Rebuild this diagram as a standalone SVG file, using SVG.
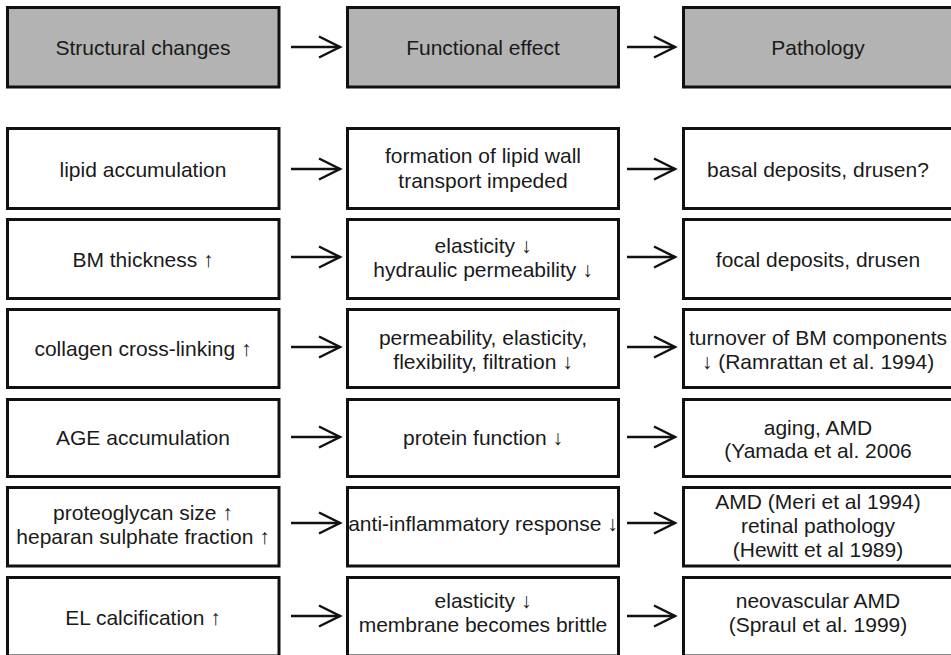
<svg xmlns="http://www.w3.org/2000/svg" width="951" height="655" viewBox="0 0 951 655">
<style>
.box{fill:#ffffff;stroke:#111111;stroke-width:3}
.hdr{fill:#b3b3b3;stroke:#111111;stroke-width:3}
text{font-family:"Liberation Sans",Arial,sans-serif;font-size:21px;fill:#1a1a1a;text-anchor:middle}
.conn line{stroke:#111111;stroke-width:2.5;marker-end:url(#arr)}
</style>
<defs>
<marker id="arr" markerUnits="userSpaceOnUse" markerWidth="30" markerHeight="30" refX="21" refY="11" orient="auto" overflow="visible">
<path d="M0,0.5 L21,11 L0,21.5" fill="none" stroke="#111111" stroke-width="2.5"/>
</marker>
</defs>
<rect width="951" height="655" fill="#ffffff"/>
<g id="h1"><rect class="hdr" x="7.5" y="7.5" width="271.5" height="79.5"/><text x="143" y="55">Structural changes</text></g>
<g id="h2"><rect class="hdr" x="347.5" y="7.5" width="271" height="79.5"/><text x="483" y="55">Functional effect</text></g>
<g id="h3"><rect class="hdr" x="683.5" y="7.5" width="280" height="79.5"/><text x="818" y="55">Pathology</text></g>

<g id="s1"><rect class="box" x="7.5" y="128.5" width="271.5" height="80"/><text x="143" y="177">lipid accumulation</text></g>
<g id="f1"><rect class="box" x="347.5" y="128.5" width="271" height="80"/><text x="483" y="163">formation of lipid wall</text><text x="483" y="188">transport impeded</text></g>
<g id="p1"><rect class="box" x="683.5" y="128.5" width="280" height="80"/><text x="818" y="177">basal deposits, drusen?</text></g>

<g id="s2"><rect class="box" x="7.5" y="219.5" width="271.5" height="79"/><text x="143" y="267">BM thickness ↑</text></g>
<g id="f2"><rect class="box" x="347.5" y="219.5" width="271" height="79"/><text x="483" y="253">elasticity ↓</text><text x="483" y="277">hydraulic permeability ↓</text></g>
<g id="p2"><rect class="box" x="683.5" y="219.5" width="280" height="79"/><text x="818" y="267">focal deposits, drusen</text></g>

<g id="s3"><rect class="box" x="7.5" y="309.5" width="271.5" height="78"/><text x="143" y="356">collagen cross-linking ↑</text></g>
<g id="f3"><rect class="box" x="347.5" y="309.5" width="271" height="78"/><text x="483" y="344.5">permeability, elasticity,</text><text x="483" y="368.5">flexibility, filtration ↓</text></g>
<g id="p3"><rect class="box" x="683.5" y="309.5" width="280" height="78"/><text x="818" y="344.5">turnover of BM components</text><text x="818" y="368.5">↓ (Ramrattan et al. 1994)</text></g>

<g id="s4"><rect class="box" x="7.5" y="399.5" width="271.5" height="77"/><text x="143" y="445">AGE accumulation</text></g>
<g id="f4"><rect class="box" x="347.5" y="399.5" width="271" height="77"/><text x="483" y="445">protein function ↓</text></g>
<g id="p4"><rect class="box" x="683.5" y="399.5" width="280" height="77"/><text x="818" y="435">aging, AMD</text><text x="818" y="458">(Yamada et al. 2006</text></g>

<g id="s5"><rect class="box" x="7.5" y="487.5" width="271.5" height="78.5"/><text x="143" y="520">proteoglycan size ↑</text><text x="143" y="543.5">heparan sulphate fraction ↑</text></g>
<g id="f5"><rect class="box" x="347.5" y="487.5" width="271" height="78.5"/><text x="483" y="531">anti-inflammatory response ↓</text></g>
<g id="p5"><rect class="box" x="683.5" y="487.5" width="280" height="78.5"/><text x="818" y="509">AMD (Meri et al 1994)</text><text x="818" y="533">retinal pathology</text><text x="818" y="557">(Hewitt et al 1989)</text></g>

<g id="s6"><rect class="box" x="7.5" y="577.5" width="271.5" height="78.5"/><text x="143" y="625">EL calcification ↑</text></g>
<g id="f6"><rect class="box" x="347.5" y="577.5" width="271" height="78.5"/><text x="483" y="608">elasticity ↓</text><text x="483" y="632">membrane becomes brittle</text></g>
<g id="p6"><rect class="box" x="683.5" y="577.5" width="280" height="78.5"/><text x="818" y="608">neovascular AMD</text><text x="818" y="632">(Spraul et al. 1999)</text></g>

<g id="connectors" class="conn">
<line x1="291" y1="47" x2="340" y2="47"/><line x1="627" y1="47" x2="675" y2="47"/>
<line x1="291" y1="169" x2="340" y2="169"/><line x1="627" y1="169" x2="675" y2="169"/>
<line x1="291" y1="257" x2="340" y2="257"/><line x1="627" y1="257" x2="675" y2="257"/>
<line x1="291" y1="347" x2="340" y2="347"/><line x1="627" y1="347" x2="675" y2="347"/>
<line x1="291" y1="437" x2="340" y2="437"/><line x1="627" y1="437" x2="675" y2="437"/>
<line x1="291" y1="523" x2="340" y2="523"/><line x1="627" y1="523" x2="675" y2="523"/>
<line x1="291" y1="616" x2="340" y2="616"/><line x1="627" y1="616" x2="675" y2="616"/>
</g>
</svg>
